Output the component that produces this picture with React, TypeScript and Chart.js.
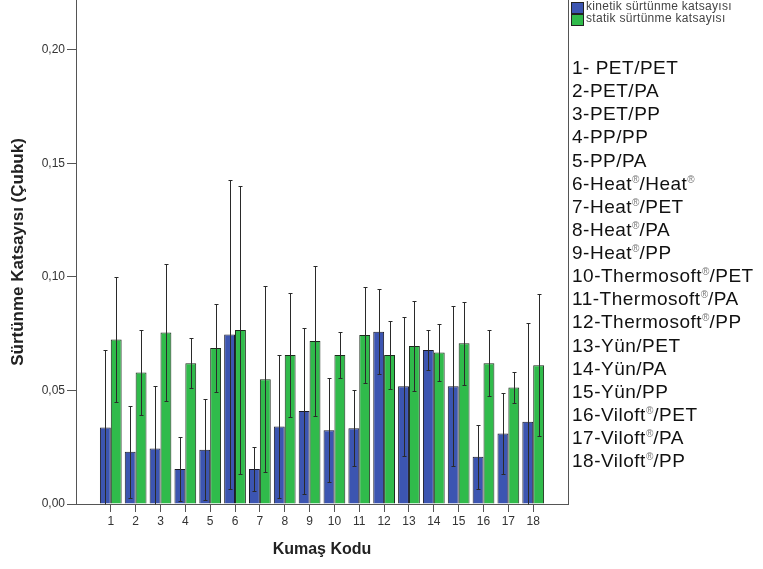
import React, { useEffect, useRef } from "react";
import { Chart, registerables } from "chart.js";

Chart.register(...registerables);

// ---- data ----
const categories = [1, 2, 3, 4, 5, 6, 7, 8, 9, 10, 11, 12, 13, 14, 15, 16, 17, 18];
const kineticMean = [0.0337, 0.0230, 0.0245, 0.0154, 0.0239, 0.0747, 0.0154, 0.0341, 0.0410, 0.0325, 0.0334, 0.0759, 0.0519, 0.0678, 0.0519, 0.0208, 0.0311, 0.0362];
const kineticErr = [0.0341, 0.0202, 0.0275, 0.0139, 0.0223, 0.0682, 0.0095, 0.0315, 0.0367, 0.0230, 0.0168, 0.0186, 0.0306, 0.0088, 0.0353, 0.0140, 0.0177, 0.0434];
const staticMean = [0.0725, 0.0579, 0.0755, 0.0620, 0.0687, 0.0766, 0.0550, 0.0656, 0.0718, 0.0656, 0.0744, 0.0656, 0.0696, 0.0667, 0.0708, 0.0620, 0.0513, 0.0611];
const staticErr = [0.0274, 0.0186, 0.0300, 0.0110, 0.0192, 0.0633, 0.0410, 0.0272, 0.0330, 0.0103, 0.0213, 0.0150, 0.0198, 0.0124, 0.0183, 0.0145, 0.0070, 0.0312];
const seriesNames = ["kinetik sürtünme katsayısı", "statik sürtünme katsayısı"];
const yTicks = [0, 0.05, 0.1, 0.15, 0.2];
// code list: [prefix, material A, A registered?, material B, B registered?]
const codeList: [string, string, boolean, string, boolean][] = [
  ["1- ", "PET", false, "PET", false],
  ["2-", "PET", false, "PA", false],
  ["3-", "PET", false, "PP", false],
  ["4-", "PP", false, "PP", false],
  ["5-", "PP", false, "PA", false],
  ["6-", "Heat", true, "Heat", true],
  ["7-", "Heat", true, "PET", false],
  ["8-", "Heat", true, "PA", false],
  ["9-", "Heat", true, "PP", false],
  ["10-", "Thermosoft", true, "PET", false],
  ["11-", "Thermosoft", true, "PA", false],
  ["12-", "Thermosoft", true, "PP", false],
  ["13-", "Yün", false, "PET", false],
  ["14-", "Yün", false, "PA", false],
  ["15-", "Yün", false, "PP", false],
  ["16-", "Viloft", true, "PET", false],
  ["17-", "Viloft", true, "PA", false],
  ["18-", "Viloft", true, "PP", false],
];

const BLUE = "#3c55b1";
const GREEN = "#30bb4b";
const AXIS = "#555555";
const FONT = "Arial, 'Liberation Sans', sans-serif";

const errorBars = {
  id: "errorBars",
  afterDatasetsDraw(chart: any) {
    const ctx = chart.ctx;
    const y = chart.scales.y;
    const sets = [
      [kineticMean, kineticErr],
      [staticMean, staticErr],
    ];
    sets.forEach(([m, e], di) => {
      const meta = chart.getDatasetMeta(di);
      meta.data.forEach((bar: any, i: number) => {
        const x = Math.round(bar.x) + 0.5;
        const hi = m[i] + e[i];
        const lo = m[i] - e[i];
        const yTop = Math.round(y.getPixelForValue(hi)) + 0.5;
        const yBot = Math.round(y.getPixelForValue(Math.max(0, lo))) + 0.5;
        ctx.save();
        ctx.strokeStyle = "#2a2a2a";
        ctx.lineWidth = 1;
        ctx.beginPath();
        ctx.moveTo(x, yTop);
        ctx.lineTo(x, yBot);
        ctx.moveTo(x - 2, yTop);
        ctx.lineTo(x + 2, yTop);
        if (lo > 0.001) {
          ctx.moveTo(x - 2, yBot);
          ctx.lineTo(x + 2, yBot);
        }
        ctx.stroke();
        ctx.restore();
      });
    });
  },
};

const frameLine = {
  id: "frameLine",
  afterDraw(chart: any) {
    const { ctx, chartArea } = chart;
    ctx.save();
    ctx.strokeStyle = AXIS;
    ctx.lineWidth = 1;
    ctx.beginPath();
    const x = Math.round(chartArea.right) + 0.5;
    ctx.moveTo(x, chartArea.top);
    ctx.lineTo(x, chartArea.bottom);
    ctx.stroke();
    ctx.restore();
  },
};

export default function App() {
  const ref = useRef<HTMLCanvasElement>(null);

  useEffect(() => {
    const chart = new Chart(ref.current as HTMLCanvasElement, {
      type: "bar",
      data: {
        datasets: [
          {
            label: seriesNames[0],
            data: categories.map((c, i) => ({ x: c, y: kineticMean[i] })),
            backgroundColor: BLUE,
            borderColor: "#1c1c2a",
            borderWidth: 1,
            categoryPercentage: 0.875,
            barPercentage: 1,
          },
          {
            label: seriesNames[1],
            data: categories.map((c, i) => ({ x: c, y: staticMean[i] })),
            backgroundColor: GREEN,
            borderColor: "#1c2a1c",
            borderWidth: 1,
            categoryPercentage: 0.875,
            barPercentage: 1,
          },
        ],
      } as any,
      options: {
        animation: false,
        responsive: false,
        devicePixelRatio: 1,
        layout: { padding: { top: 0, right: 195, bottom: 0, left: 0 } },
        plugins: { legend: { display: false }, tooltip: { enabled: false } },
        scales: {
          x: {
            type: "linear",
            min: -0.4,
            max: 19.4,
            offset: false,
            ticks: {
              stepSize: 1,
              includeBounds: false,
              autoSkip: false,
              maxRotation: 0,
              padding: 2,
              color: "#333",
              font: { family: FONT, size: 12 },
              callback: (v: any) =>
                categories.includes(Number(v)) ? String(v) : null,
            },
            grid: {
              drawOnChartArea: false,
              drawTicks: true,
              tickLength: 8,
              color: AXIS,
              offset: false,
            },
            border: { color: AXIS, width: 1 },
            title: {
              display: true,
              text: "Kumaş Kodu",
              color: "#222",
              font: { family: FONT, size: 16, weight: "bold" },
              padding: { top: 0, bottom: 10 },
            },
            afterFit: (s: any) => {
              s.height = 65;
              s.paddingLeft = 0;
              s.paddingRight = 0;
            },
          },
          y: {
            type: "linear",
            min: 0,
            max: 0.222,
            ticks: {
              stepSize: 0.05,
              includeBounds: false,
              padding: 2,
              color: "#333",
              font: { family: FONT, size: 12 },
              callback: (v: any) => {
                const n = Number(v);
                return yTicks.some((t) => Math.abs(t - n) < 1e-6)
                  ? n.toFixed(2).replace(".", ",")
                  : null;
              },
            },
            grid: {
              drawOnChartArea: false,
              drawTicks: true,
              tickLength: 9,
              color: AXIS,
            },
            border: { color: AXIS, width: 1 },
            title: {
              display: true,
              text: "Sürtünme Katsayısı (Çubuk)",
              color: "#222",
              font: { family: FONT, size: 17, weight: "bold" },
              padding: { top: 8, bottom: 0 },
            },
            afterFit: (s: any) => {
              s.width = 76;
              s.paddingTop = 0;
              s.paddingBottom = 0;
            },
          },
        },
      } as any,
      plugins: [errorBars, frameLine],
    });
    return () => chart.destroy();
  }, []);

  const sq = (c: string): React.CSSProperties => ({
    position: "absolute",
    left: 0,
    width: 11,
    height: 10,
    background: c,
    border: "1px solid #222",
  });

  return (
    <div
      style={{
        position: "fixed",
        left: 0,
        top: 0,
        width: 763,
        height: 569,
        background: "#fff",
        overflow: "hidden",
      }}
    >
      <canvas
        ref={ref}
        width={763}
        height={569}
        style={{ position: "absolute", left: 0, top: 0 }}
      />
      <div
        style={{
          position: "absolute",
          left: 571,
          top: 1,
          width: 190,
          fontFamily: FONT,
          fontSize: 12,
          letterSpacing: "0.3px",
          color: "#444",
        }}
      >
        <div style={{ position: "relative", height: 12 }}>
          <div style={{ ...sq(BLUE), top: 1 }} />
          <span style={{ position: "absolute", left: 15, top: -1, lineHeight: "13px", whiteSpace: "nowrap" }}>
            {seriesNames[0]}
          </span>
        </div>
        <div style={{ position: "relative", height: 12 }}>
          <div style={{ ...sq(GREEN), top: 1 }} />
          <span style={{ position: "absolute", left: 15, top: -1, lineHeight: "13px", whiteSpace: "nowrap" }}>
            {seriesNames[1]}
          </span>
        </div>
      </div>
      <div
        style={{
          position: "absolute",
          left: 572,
          top: 56,
          fontFamily: FONT,
          fontSize: 19,
          lineHeight: "23.14px",
          letterSpacing: "0.5px",
          color: "#111",
          whiteSpace: "nowrap",
        }}
      >
        {codeList.map(([p, a, ar, b, br], i) => (
          <div key={i} style={{ height: 23.14 }}>
            {p}
            {a}
            {ar && <Reg />}/{b}
            {br && <Reg />}
          </div>
        ))}
      </div>
    </div>
  );
}

function Reg() {
  return (
    <span
      style={{
        fontSize: 10,
        color: "#777",
        position: "relative",
        top: -7,
        letterSpacing: 0,
      }}
    >
      ®
    </span>
  );
}
